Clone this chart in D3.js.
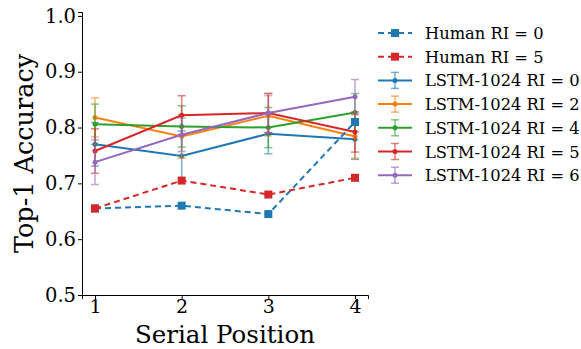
<!DOCTYPE html>
<html>
<head>
<meta charset="utf-8">
<script src="https://cdn.jsdelivr.net/npm/d3@7"></script>
<style>
  body { margin: 0; background: #fff; }
  text { font-family: "DejaVu Serif", serif; fill: #000; }
</style>
</head>
<body>
<svg id="chart" width="581" height="349"></svg>
<script>
// serial positions on the x axis
const positions = [1, 2, 3, 4];
const yTicks = [0.5, 0.6, 0.7, 0.8, 0.9, 1.0];

// human results (dashed, square markers)
const humanRI0 = [0.655, 0.660, 0.645, 0.810];
const humanRI5 = [0.655, 0.705, 0.680, 0.710];

// LSTM-1024 means and error half-widths
const lstmRI0 = [0.770, 0.749, 0.789, 0.779];
const lstmRI0Err = [0.039, 0.045, 0.036, 0.036];
const lstmRI2 = [0.818, 0.784, 0.821, 0.784];
const lstmRI2Err = [0.035, 0.039, 0.036, 0.039];
const lstmRI4 = [0.806, 0.802, 0.800, 0.827];
const lstmRI4Err = [0.036, 0.037, 0.036, 0.034];
const lstmRI5 = [0.758, 0.822, 0.826, 0.792];
const lstmRI5Err = [0.040, 0.035, 0.035, 0.036];
const lstmRI6 = [0.738, 0.787, 0.826, 0.855];
const lstmRI6Err = [0.040, 0.030, 0.035, 0.031];

const humanSeries = [
    {name: "Human RI = 0", color: "#1f77b4", values: humanRI0},
    {name: "Human RI = 5", color: "#d62728", values: humanRI5}
];
const lstmSeries = [
    {name: "LSTM-1024 RI = 0", color: "#1f77b4", values: lstmRI0, err: lstmRI0Err},
    {name: "LSTM-1024 RI = 2", color: "#ff7f0e", values: lstmRI2, err: lstmRI2Err},
    {name: "LSTM-1024 RI = 4", color: "#2ca02c", values: lstmRI4, err: lstmRI4Err},
    {name: "LSTM-1024 RI = 5", color: "#d62728", values: lstmRI5, err: lstmRI5Err},
    {name: "LSTM-1024 RI = 6", color: "#9467bd", values: lstmRI6, err: lstmRI6Err}
];

const svg = d3.select("#chart");
const m = {left: 82, right: 368, top: 12, bottom: 295};

const x = d3.scaleLinear().domain([0.85, 4.15]).range([m.left, m.right]);
const y = d3.scaleLinear().domain([0.5, 1.007]).range([m.bottom, m.top]);

// axes (left and bottom spines only)
const yAxis = svg.append("g")
    .attr("transform", `translate(${m.left},0)`)
    .call(d3.axisLeft(y).tickValues(yTicks).tickFormat(d3.format(".1f")).tickSizeOuter(0).tickSize(4));
const xAxis = svg.append("g")
    .attr("transform", `translate(0,${m.bottom})`)
    .call(d3.axisBottom(x).tickValues(positions).tickFormat(d3.format("d")).tickSizeOuter(0).tickSize(4));
[xAxis, yAxis].forEach(g => {
    g.select(".domain").attr("stroke", "#000").attr("stroke-width", 1);
    g.selectAll(".tick line").attr("stroke", "#000");
    g.selectAll(".tick text").style("font-family", "DejaVu Serif").style("font-size", "19.5px").attr("fill", "#000");
});
yAxis.selectAll(".tick text").attr("x", -6);
xAxis.selectAll(".tick text").attr("y", 5).style("font-size", "19px");

svg.append("text")
    .attr("transform", `translate(33,${(m.top + m.bottom) / 2}) rotate(-90)`)
    .attr("text-anchor", "middle")
    .style("font-size", "25.5px")
    .text("Top-1 Accuracy");
svg.append("text")
    .attr("x", (m.left + m.right) / 2)
    .attr("y", 343)
    .attr("text-anchor", "middle")
    .style("font-size", "24.5px")
    .text("Serial Position");

const line = d3.line().x((d, i) => x(positions[i])).y(d => y(d));

// LSTM lines with error bars
lstmSeries.forEach(s => {
    const g = svg.append("g");
    const eb = g.append("g").attr("stroke", s.color).attr("stroke-width", 1.5).attr("opacity", 0.6);
    s.values.forEach((v, i) => {
        const cx = x(positions[i]);
        eb.append("line").attr("x1", cx).attr("x2", cx).attr("y1", y(v - s.err[i])).attr("y2", y(v + s.err[i]));
        [v - s.err[i], v + s.err[i]].forEach(e => {
            eb.append("line").attr("x1", cx - 4).attr("x2", cx + 4).attr("y1", y(e)).attr("y2", y(e));
        });
    });
    g.append("path").datum(s.values).attr("d", line)
        .attr("fill", "none").attr("stroke", s.color).attr("stroke-width", 2);
    g.selectAll("circle").data(s.values).enter().append("circle")
        .attr("cx", (d, i) => x(positions[i])).attr("cy", d => y(d))
        .attr("r", 2.5).attr("fill", s.color);
});

// human lines
humanSeries.forEach(s => {
    const g = svg.append("g");
    g.append("path").datum(s.values).attr("d", line)
        .attr("fill", "none").attr("stroke", s.color).attr("stroke-width", 2)
        .attr("stroke-dasharray", "6,4");
    g.selectAll("rect").data(s.values).enter().append("rect")
        .attr("x", (d, i) => x(positions[i]) - 4).attr("y", d => y(d) - 4)
        .attr("width", 8).attr("height", 8).attr("fill", s.color);
});

// legend
const legend = svg.append("g").attr("transform", "translate(378,33)");
const rowH = 23.7;
humanSeries.forEach((s, i) => {
    const r = legend.append("g").attr("transform", `translate(0,${i * rowH})`);
    r.append("line").attr("x1", 0).attr("x2", 34).attr("stroke", s.color).attr("stroke-width", 2).attr("stroke-dasharray", "6,4");
    r.append("rect").attr("x", 13).attr("y", -4).attr("width", 8).attr("height", 8).attr("fill", s.color);
    r.append("text").attr("x", 47).attr("y", 6).style("font-size", "16.3px").text(s.name);
});
lstmSeries.forEach((s, j) => {
    const i = j + humanSeries.length;
    const r = legend.append("g").attr("transform", `translate(0,${i * rowH})`);
    r.append("line").attr("x1", 17).attr("x2", 17).attr("y1", -8).attr("y2", 8).attr("stroke", s.color).attr("stroke-width", 1.5).attr("opacity", 0.6);
    r.append("line").attr("x1", 13).attr("x2", 21).attr("y1", -8).attr("y2", -8).attr("stroke", s.color).attr("stroke-width", 1.5).attr("opacity", 0.6);
    r.append("line").attr("x1", 13).attr("x2", 21).attr("y1", 8).attr("y2", 8).attr("stroke", s.color).attr("stroke-width", 1.5).attr("opacity", 0.6);
    r.append("line").attr("x1", 0).attr("x2", 34).attr("stroke", s.color).attr("stroke-width", 2);
    r.append("circle").attr("cx", 17).attr("r", 2.5).attr("fill", s.color);
    r.append("text").attr("x", 47).attr("y", 6).style("font-size", "16.3px").text(s.name);
});
</script>
</body>
</html>
